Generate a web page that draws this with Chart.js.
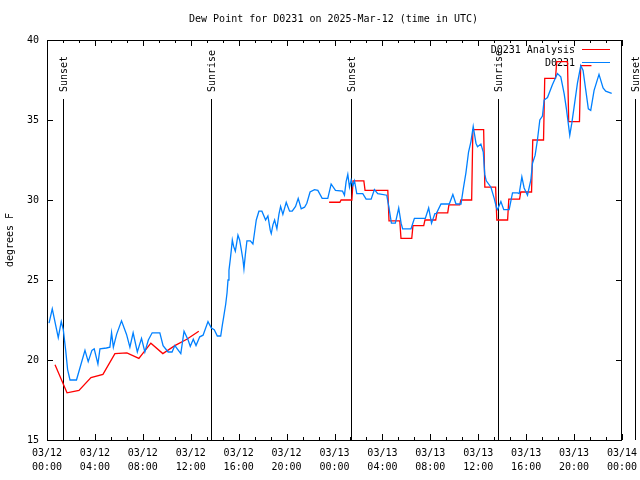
<!DOCTYPE html>
<html>
<head>
<meta charset="utf-8">
<script src="https://cdn.jsdelivr.net/npm/chart.js@4.4.1/dist/chart.umd.min.js"></script>
<style>
  html, body { margin: 0; padding: 0; background: #fff; }
</style>
</head>
<body>
<canvas id="dewChart" width="640" height="480"></canvas>
<script>
// hours since 03/12 00:00 UTC
const obsHours = [0.17, 0.44, 0.94, 1.19, 1.36, 1.56, 1.72, 1.92, 2.46, 3.17, 3.44, 3.75, 3.94, 4.25, 4.42, 4.96,
  5.25, 5.39, 5.54, 5.81, 6.22, 6.64, 6.92, 7.19, 7.54, 7.89, 8.17, 8.46, 8.78, 9.42, 9.69, 10.11, 10.44, 10.67,
  11.17, 11.44, 11.78, 11.96, 12.21, 12.44, 12.75, 13.03, 13.44, 13.72, 13.96, 14.22, 14.5, 14.64, 14.75, 14.92,
  15.03, 15.11, 15.19, 15.31, 15.39, 15.47, 15.58, 15.72, 15.81, 15.94, 16.08, 16.22, 16.36, 16.44, 16.56, 16.69,
  16.97, 17.19, 17.33, 17.47, 17.69, 17.94, 18.25, 18.44, 18.64, 18.72, 18.86, 19.0, 19.19, 19.36, 19.5, 19.69,
  19.97, 20.25, 20.47, 20.75, 20.97, 21.22, 21.5, 21.69, 21.96, 22.33, 22.61, 22.97, 23.44, 23.72, 24.08, 24.67,
  24.83, 24.97, 25.11, 25.25, 25.39, 25.53, 25.67, 25.86, 26.36, 26.64, 27.06, 27.33, 27.61, 28.36, 28.53, 28.75,
  29.08, 29.36, 29.56, 29.69, 30.39, 30.67, 31.58, 31.86, 32.1, 32.38, 32.5, 32.89, 33.58, 33.88, 34.14, 34.56,
  34.75, 34.97, 35.19, 35.39, 35.58, 35.81, 35.94, 36.22, 36.42, 36.54, 36.67, 37.06, 37.33, 37.53, 37.61, 37.89,
  38.13, 38.58, 38.86, 39.28, 39.42, 39.64, 39.83, 40.11, 40.39, 40.53, 40.75, 40.94, 41.14, 41.36, 41.5, 41.78,
  42.19, 42.61, 42.89, 43.17, 43.36, 43.53, 43.64, 43.81, 44.0, 44.28, 44.56, 44.75, 44.97, 45.19, 45.39, 45.67,
  46.08, 46.42, 46.64, 47.14];
const obsDew = [22.3, 23.2, 21.4, 22.4, 21.9, 20.6, 19.4, 18.75, 18.75, 20.6, 19.9, 20.6, 20.7, 19.75, 20.7, 20.75,
  20.8, 21.7, 20.8, 21.6, 22.45, 21.6, 20.8, 21.7, 20.5, 21.35, 20.5, 21.25, 21.7, 21.7, 20.9, 20.5, 20.5, 20.9,
  20.4, 21.8, 21.25, 20.85, 21.3, 20.9, 21.45, 21.55, 22.4, 22.0, 21.9, 21.5, 21.5, 22.2, 22.7, 23.5,
  24.2, 25.0, 25.6, 26.35, 26.9, 27.5, 27.1, 26.8, 27.2, 27.8, 27.5, 26.9, 26.25, 25.7, 26.6, 27.45,
  27.45, 27.25, 28.0, 28.75, 29.3, 29.3, 28.75, 29.0, 28.1, 27.9, 28.45, 28.75, 28.2, 29.1, 29.6, 29.1,
  29.85, 29.3, 29.3, 29.6, 30.1, 29.45, 29.55, 29.8, 30.5, 30.65, 30.6, 30.1, 30.1, 31.0, 30.6, 30.55,
  30.3, 31.15, 31.6, 30.8, 31.25, 30.9, 31.2, 30.4, 30.4, 30.05, 30.05, 30.65, 30.4, 30.3, 29.6, 28.55,
  28.55, 29.5, 28.55, 28.2, 28.2, 28.85, 28.85, 29.5, 28.55, 29.15, 29.15, 29.75, 29.75, 30.35, 29.75, 29.75,
  30.7, 31.7, 33.0, 33.65, 34.6, 33.55, 33.33, 33.5, 33.0, 31.6, 31.2, 30.8, 30.1, 29.5, 29.4, 29.9,
  29.4, 29.4, 30.45, 30.45, 30.4, 31.45, 30.75, 30.3, 31.25, 32.3, 32.8, 33.75, 35.0, 35.25, 36.25, 36.4,
  37.2, 37.9, 37.7, 36.65, 35.7, 34.7, 34.05, 34.8, 35.8, 37.3, 38.4, 38.1, 36.9, 35.7, 35.6, 36.85,
  37.85, 37.0, 36.8, 36.67];

// analysis: first day interpolated, second day hourly steps
const anaHours = [0.67, 1.67, 2.67, 3.67, 4.67, 5.67, 6.67, 7.67, 8.67, 9.67, 10.67, 11.67, 12.67];
const anaDew = [19.7, 17.95, 18.1, 18.9, 19.1, 20.4, 20.45, 20.1, 21.05, 20.4, 20.9, 21.3, 21.8];
const anaStepHours = [24, 25, 26, 27, 28, 29, 30, 31, 32, 33, 34, 35, 36, 37, 38, 39, 40, 41, 42, 43, 44, 45];
const anaStepDew = [29.86, 30.0, 31.2, 30.6, 30.6, 28.7, 27.6, 28.4, 28.75, 29.2, 29.7, 30.0, 34.4, 30.8,
  28.75, 30.05, 30.5, 33.75, 37.6, 38.65, 34.9, 38.4];

const sunHours = [1.36, 13.71, 25.39, 37.61, 49.1];
const sunLabels = ['Sunset', 'Sunrise', 'Sunset', 'Sunrise', 'Sunset'];

const xTickDates = ['03/12', '03/12', '03/12', '03/12', '03/12', '03/12', '03/13', '03/13', '03/13', '03/13', '03/13', '03/13', '03/14'];
const xTickTimes = ['00:00', '04:00', '08:00', '12:00', '16:00', '20:00', '00:00', '04:00', '08:00', '12:00', '16:00', '20:00', '00:00'];

const FONT = '"DejaVu Sans Mono", "Liberation Mono", monospace';
const RED = '#ff0000';
const BLUE = 'rgb(0,128,255)';

let anaPoints = anaHours.map((h, i) => ({x: h, y: anaDew[i]}));
anaPoints.push({x: 18, y: null});
anaStepHours.forEach((h, i) => {
  anaPoints.push({x: h - 0.45, y: anaStepDew[i]});
  anaPoints.push({x: h + 0.45, y: anaStepDew[i]});
});
let obsPoints = obsHours.map((h, i) => ({x: h, y: obsDew[i]}));

const gnuplotLook = {
  id: 'gnuplotLook',
  beforeDatasetsDraw(chart) {
    const {ctx, chartArea: a, scales: {x}} = chart;
    ctx.save();
    ctx.strokeStyle = '#000';
    ctx.lineWidth = 1;
    ctx.fillStyle = '#000';
    ctx.font = '10px ' + FONT;
    sunHours.forEach((h, i) => {
      const px = Math.round(x.getPixelForValue(h)) + 0.5;
      ctx.beginPath();
      ctx.moveTo(px, 99);
      ctx.lineTo(px, a.bottom);
      ctx.stroke();
      ctx.save();
      ctx.translate(px + 1, 92);
      ctx.rotate(-Math.PI / 2);
      ctx.textAlign = 'left';
      ctx.textBaseline = 'middle';
      ctx.fillText(sunLabels[i], 0, 0);
      ctx.restore();
    });
    // key
    ctx.textAlign = 'right';
    ctx.textBaseline = 'middle';
    ctx.fillText('D0231 Analysis', 575, 50);
    ctx.fillText('D0231', 575, 63);
    ctx.strokeStyle = RED;
    ctx.beginPath(); ctx.moveTo(582, 49.5); ctx.lineTo(610, 49.5); ctx.stroke();
    ctx.strokeStyle = BLUE;
    ctx.beginPath(); ctx.moveTo(582, 62.5); ctx.lineTo(610, 62.5); ctx.stroke();
    ctx.restore();
  },
  afterDraw(chart) {
    const {ctx, chartArea: a, scales: {x, y}} = chart;
    ctx.save();
    ctx.strokeStyle = '#000';
    ctx.lineWidth = 1;
    ctx.strokeRect(a.left + 0.5, a.top + 0.5, a.right - a.left - 1, a.bottom - a.top);
    ctx.beginPath();
    for (let k = 0; k <= 36; k++) {
      const px = Math.round(x.getPixelForValue(k * 4 / 3)) + 0.5;
      const len = k % 3 === 0 ? 6 : 3;
      ctx.moveTo(px, a.bottom); ctx.lineTo(px, a.bottom - len);
      ctx.moveTo(px, a.top); ctx.lineTo(px, a.top + len);
    }
    y.ticks.forEach(t => {
      const py = Math.round(y.getPixelForValue(t.value)) + 0.5;
      ctx.moveTo(a.left, py); ctx.lineTo(a.left + 6, py);
      ctx.moveTo(a.right, py); ctx.lineTo(a.right - 6, py);
    });
    ctx.stroke();
    ctx.fillStyle = '#000';
    ctx.font = '10px ' + FONT;
    ctx.textAlign = 'center';
    ctx.textBaseline = 'middle';
    ctx.fillText('Dew Point for D0231 on 2025-Mar-12 (time in UTC)', (a.left + a.right) / 2 - 1, 19);
    ctx.restore();
  }
};

new Chart(document.getElementById('dewChart').getContext('2d'), {
  type: 'line',
  data: {
    datasets: [{
      label: 'D0231 Analysis',
      data: anaPoints,
      borderColor: RED,
      borderWidth: 1.3,
      pointRadius: 0,
      tension: 0,
      fill: false,
      order: 2
    }, {
      label: 'D0231',
      data: obsPoints,
      borderColor: BLUE,
      borderWidth: 1.3,
      pointRadius: 0,
      tension: 0,
      fill: false,
      order: 1
    }]
  },
  options: {
    responsive: false,
    devicePixelRatio: 1,
    animation: false,
    layout: { padding: { top: 40, right: 18, left: 0, bottom: 0 } },
    plugins: {
      legend: { display: false },
      tooltip: { enabled: false },
      title: { display: false }
    },
    scales: {
      x: {
        type: 'linear',
        min: 0,
        max: 48,
        grid: { display: false, drawTicks: false },
        border: { display: false },
        ticks: {
          stepSize: 4,
          autoSkip: false,
          maxRotation: 0,
          padding: 6,
          color: '#000',
          font: { family: FONT, size: 10, lineHeight: 1.4 },
          callback: (v, i) => [xTickDates[i], xTickTimes[i]]
        },
        afterFit: (scale) => {
          scale.height = 40;
          scale.paddingLeft = 0;
          scale.paddingRight = 0;
        }
      },
      y: {
        min: 15,
        max: 40,
        grid: { display: false, drawTicks: false },
        border: { display: false },
        ticks: {
          stepSize: 5,
          padding: 8,
          color: '#000',
          font: { family: FONT, size: 10 }
        },
        title: {
          display: true,
          text: 'degrees F',
          color: '#000',
          font: { family: FONT, size: 10, lineHeight: 1.2 },
          padding: { top: 4, bottom: 0 }
        },
        afterFit: (scale) => { scale.width = 47; }
      }
    }
  },
  plugins: [gnuplotLook]
});
</script>
</body>
</html>
